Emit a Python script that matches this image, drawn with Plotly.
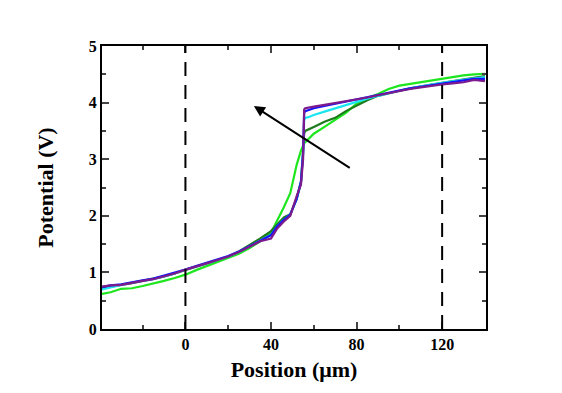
import plotly.graph_objects as go

x_pos = [-39, -35, -30, -25, -20, -15, -10, -5, 0, 5, 10, 15, 20, 25, 30, 35, 40, 43, 46, 49, 52, 54, 55, 55.5, 56, 58, 60, 65, 70, 75, 80, 85, 90, 95, 100, 105, 110, 115, 120, 125, 130, 135, 140]

y_lime = [0.62, 0.65, 0.71, 0.72, 0.76, 0.80, 0.85, 0.90, 0.96, 1.04, 1.11, 1.18, 1.25, 1.33, 1.43, 1.55, 1.70, 1.92, 2.15, 2.40, 2.90, 3.15, 3.25, 3.28, 3.30, 3.38, 3.45, 3.57, 3.70, 3.82, 3.98, 4.08, 4.15, 4.24, 4.30, 4.33, 4.37, 4.40, 4.42, 4.45, 4.48, 4.50, 4.51]
y_dkgreen = [0.72, 0.75, 0.78, 0.81, 0.85, 0.88, 0.93, 0.98, 1.04, 1.09, 1.15, 1.21, 1.28, 1.37, 1.48, 1.60, 1.73, 1.85, 1.97, 2.03, 2.30, 2.60, 3.20, 3.45, 3.50, 3.53, 3.57, 3.66, 3.73, 3.85, 3.95, 4.04, 4.12, 4.17, 4.21, 4.25, 4.29, 4.32, 4.35, 4.38, 4.41, 4.44, 4.47]
y_cyan = [0.70, 0.74, 0.78, 0.82, 0.85, 0.88, 0.93, 0.98, 1.05, 1.10, 1.16, 1.22, 1.28, 1.36, 1.46, 1.57, 1.66, 1.82, 1.93, 2.02, 2.30, 2.60, 3.10, 3.70, 3.73, 3.75, 3.78, 3.84, 3.90, 3.96, 4.02, 4.07, 4.12, 4.17, 4.21, 4.25, 4.29, 4.32, 4.35, 4.38, 4.41, 4.43, 4.45]
y_blue = [0.74, 0.77, 0.79, 0.83, 0.86, 0.89, 0.94, 0.99, 1.05, 1.11, 1.17, 1.23, 1.29, 1.37, 1.46, 1.56, 1.66, 1.82, 1.93, 2.02, 2.30, 2.60, 3.10, 3.82, 3.85, 3.88, 3.90, 3.94, 3.98, 4.02, 4.05, 4.09, 4.13, 4.17, 4.21, 4.25, 4.28, 4.31, 4.34, 4.36, 4.39, 4.42, 4.42]
y_purple = [0.75, 0.77, 0.78, 0.82, 0.85, 0.88, 0.93, 0.98, 1.05, 1.10, 1.16, 1.22, 1.28, 1.36, 1.45, 1.55, 1.60, 1.78, 1.90, 2.00, 2.35, 2.55, 3.00, 3.88, 3.90, 3.91, 3.93, 3.96, 3.99, 4.02, 4.05, 4.09, 4.13, 4.17, 4.21, 4.24, 4.27, 4.30, 4.32, 4.34, 4.36, 4.40, 4.38]

series = [
    ("lime", y_lime, "#1ee61e"),
    ("dark green", y_dkgreen, "#1d7a1d"),
    ("cyan", y_cyan, "#19e6f0"),
    ("blue", y_blue, "#1414ff"),
    ("purple", y_purple, "#7d1a8c"),
]

dashed_x = [0, 120]
x_ticks = [0, 40, 80, 120]
arrow_tail = (77.5, 2.83)
arrow_head = (32, 3.94)

fig = go.Figure()
for name, ys, col in series:
    fig.add_trace(go.Scatter(x=x_pos, y=ys, mode="lines", name=name,
                             line=dict(color=col, width=2.2), showlegend=False))

for xv in dashed_x:
    fig.add_shape(type="line", x0=xv, x1=xv, y0=0, y1=5, xref="x", yref="y",
                  line=dict(color="black", width=2, dash="14px,9px"))

fig.add_annotation(x=arrow_head[0], y=arrow_head[1], ax=arrow_tail[0], ay=arrow_tail[1],
                   xref="x", yref="y", axref="x", ayref="y", text="",
                   showarrow=True, arrowhead=2, arrowsize=1.1, arrowwidth=2, arrowcolor="black")

font_serif = "Liberation Serif, Times New Roman, serif"
fig.update_layout(
    width=562, height=393,
    margin=dict(l=94, r=84, t=38, b=72),
    plot_bgcolor="white", paper_bgcolor="white",
    font=dict(family=font_serif, color="black"),
    xaxis=dict(range=[-39, 140.5], tickvals=x_ticks, ticks="inside", ticklen=7, tickwidth=2,
               showline=True, linewidth=2, linecolor="black", mirror="allticks", showgrid=False,
               zeroline=False, tickfont=dict(size=16, family=font_serif, weight="bold"),
               minor=dict(tickvals=[-20, 20, 60, 100], ticks="inside", ticklen=4, tickwidth=1.5, showgrid=False),
               title=dict(text="Position (μm)", font=dict(size=22, family=font_serif, weight="bold"), standoff=9)),
    yaxis=dict(range=[0, 5], dtick=1, ticks="inside", ticklen=7, tickwidth=2,
               showline=True, linewidth=2, linecolor="black", mirror="allticks", showgrid=False,
               zeroline=False, tickfont=dict(size=16, family=font_serif, weight="bold"),
               minor=dict(dtick=0.5, ticks="inside", ticklen=4, tickwidth=1.5, showgrid=False),
               title=dict(text="Potential (V)", font=dict(size=22, family=font_serif, weight="bold"), standoff=29)),
)

fig.write_html("out.html")
